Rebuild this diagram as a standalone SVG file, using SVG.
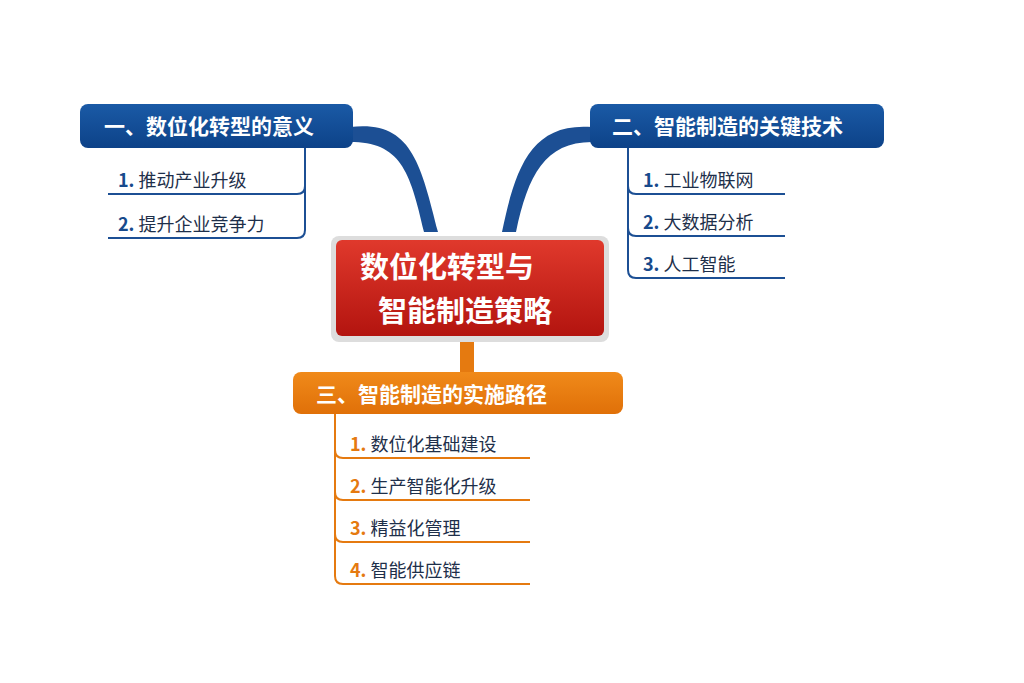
<svg xmlns="http://www.w3.org/2000/svg" width="1024" height="683" viewBox="0 0 1024 683">
<defs>
<linearGradient id="red" x1="0" y1="0" x2="0" y2="1"><stop offset="0" stop-color="#e0392c"/><stop offset="1" stop-color="#b3140f"/></linearGradient>
<linearGradient id="blue" x1="0" y1="0" x2="0" y2="1"><stop offset="0" stop-color="#1a5aa6"/><stop offset="1" stop-color="#0d4288"/></linearGradient>
<linearGradient id="orange" x1="0" y1="0" x2="0" y2="1"><stop offset="0" stop-color="#f08a1a"/><stop offset="1" stop-color="#e07008"/></linearGradient>
</defs>
<style>
text{font-family:"Noto Sans CJK SC","Noto Sans",sans-serif}
.h{fill:#fff;font-size:21px;font-weight:bold}
.s{font-size:18px;fill:#1e2f4a}
.nb{fill:#174a8c;font-weight:bold}
.no{fill:#e57a10;font-weight:bold}
.lb{fill:none;stroke:#1c4f94;stroke-width:2}
.lo{fill:none;stroke:#e57a10;stroke-width:2}
</style>
<rect width="1024" height="683" fill="#fff"/>
<g id="connectors">
<path d="M350,127 C410,120 420,160 438,232 L424,232 C410,170 400,142 350,142 Z" fill="#1c4f94"/>
<path d="M592,127 C530,122 515,170 502,232 L516,232 C528,175 545,142 592,142 Z" fill="#1c4f94"/>
<rect x="460" y="340" width="14" height="34" fill="#e57a10"/>
<path class="lb" d="M305,148 V186 Q305,194 297,194 H108 M305,186 V230 Q305,238 297,238 H108"/>
<path class="lb" d="M628,148 V186 Q628,194 636,194 H785 M628,186 V228 Q628,236 636,236 H785 M628,228 V270 Q628,278 636,278 H785"/>
<path class="lo" d="M335,414 V450 Q335,458 343,458 H530 M335,450 V492 Q335,500 343,500 H530 M335,492 V534 Q335,542 343,542 H530 M335,534 V576 Q335,584 343,584 H530"/>
</g>
<g id="center">
<rect x="331" y="236" width="278" height="106" rx="8" fill="#ddd"/>
<rect x="336" y="240" width="268" height="96" rx="6" fill="url(#red)"/>
<text x="360" y="278" fill="#fff" font-size="29" font-weight="bold">数位化转型与</text>
<text x="378" y="322" fill="#fff" font-size="29" font-weight="bold">智能制造策略</text>
</g>
<g id="n1"><rect x="80" y="104" width="273" height="44" rx="8" fill="url(#blue)"/><text class="h" x="104" y="134">一、数位化转型的意义</text></g>
<g id="n1a"><text class="s" x="118" y="187"><tspan class="nb">1.</tspan> 推动产业升级</text></g>
<g id="n1b"><text class="s" x="118" y="231"><tspan class="nb">2.</tspan> 提升企业竞争力</text></g>
<g id="n2"><rect x="590" y="104" width="294" height="44" rx="8" fill="url(#blue)"/><text class="h" x="612" y="134">二、智能制造的关键技术</text></g>
<g id="n2a"><text class="s" x="643" y="187"><tspan class="nb">1.</tspan> 工业物联网</text></g>
<g id="n2b"><text class="s" x="643" y="229"><tspan class="nb">2.</tspan> 大数据分析</text></g>
<g id="n2c"><text class="s" x="643" y="271"><tspan class="nb">3.</tspan> 人工智能</text></g>
<g id="n3"><rect x="293" y="372" width="330" height="42" rx="8" fill="url(#orange)"/><text class="h" x="316" y="402">三、智能制造的实施路径</text></g>
<g id="n3a"><text class="s" x="350" y="451"><tspan class="no">1.</tspan> 数位化基础建设</text></g>
<g id="n3b"><text class="s" x="350" y="493"><tspan class="no">2.</tspan> 生产智能化升级</text></g>
<g id="n3c"><text class="s" x="350" y="535"><tspan class="no">3.</tspan> 精益化管理</text></g>
<g id="n3d"><text class="s" x="350" y="577"><tspan class="no">4.</tspan> 智能供应链</text></g>
</svg>
